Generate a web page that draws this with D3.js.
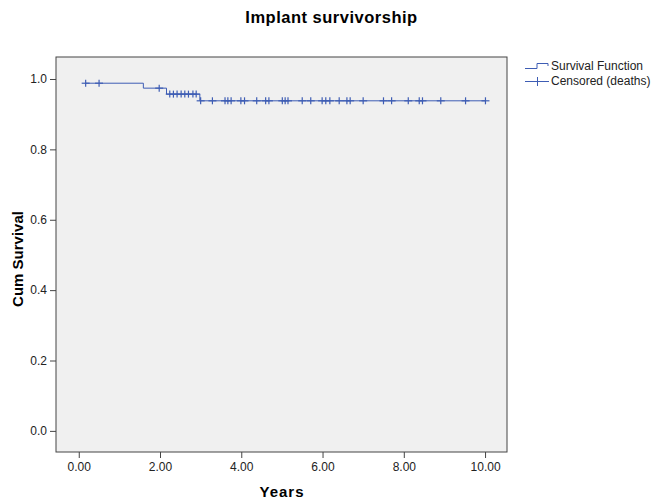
<!DOCTYPE html>
<html><head><meta charset="utf-8">
<script src="https://cdn.jsdelivr.net/npm/d3@7"></script>
<style>
body{margin:0;background:#fff;}
svg{display:block;font-family:"Liberation Sans",Arial,sans-serif;}
</style></head>
<body><svg id="c" width="652" height="501"></svg>
<script>
// Kaplan-Meier steps: event times and survival after each step
const startTime = 0.17;
const eventTimes = [1.59, 2.16, 2.98];
const survivalLevels = [0.988, 0.974, 0.957, 0.938]; // level before first event, then after each
const censoredTimes = [0.17, 0.50, 1.98,
  2.24, 2.33, 2.42, 2.52, 2.61, 2.70, 2.81, 2.89,
  3.00, 3.29, 3.60, 3.67, 3.75, 3.99, 4.08, 4.38, 4.60, 4.68,
  5.01, 5.08, 5.15, 5.50, 5.71, 5.99, 6.08, 6.18, 6.41, 6.60, 6.68,
  7.00, 7.50, 7.70, 8.11, 8.38, 8.46, 8.91, 9.52, 10.01];
const endTime = 10.01;
const xTicks = [0, 2, 4, 6, 8, 10];
const yTicks = [0, 0.2, 0.4, 0.6, 0.8, 1.0];
const legendLabels = ["Survival Function", "Censored (deaths)"];

const svg = d3.select("#c");
const L = 56, R = 507, T = 57, B = 452;
const x = d3.scaleLinear().domain([-0.56, 10.54]).range([L, R]);
const y = d3.scaleLinear().domain([-0.06, 1.0625]).range([B, T]);
const blue = "#3e5db4";
const ff = "Liberation Sans, Arial, sans-serif";

svg.append("text").attr("x", 331.5).attr("y", 23).attr("text-anchor", "middle")
  .attr("font-weight", "bold").attr("font-size", 16.5).attr("letter-spacing", 0.5)
  .attr("fill", "#000").text("Implant survivorship");

svg.append("rect").attr("x", L).attr("y", T).attr("width", R - L).attr("height", B - T)
  .attr("fill", "#f0f0f0").attr("stroke", "#444").attr("stroke-width", 1);

const xAxis = svg.append("g").attr("transform", `translate(0,${B})`)
  .call(d3.axisBottom(x).tickValues(xTicks).tickFormat(d3.format(".2f")).tickSize(6).tickSizeOuter(0));
xAxis.select(".domain").remove();
xAxis.selectAll("line").attr("stroke", "#444");
xAxis.selectAll("text").attr("font-size", 12).attr("fill", "#222").attr("dy", "0.85em")
  .style("font-family", ff);

const yAxis = svg.append("g").attr("transform", `translate(${L},0)`)
  .call(d3.axisLeft(y).tickValues(yTicks).tickFormat(d3.format(".1f")).tickSize(6).tickSizeOuter(0));
yAxis.select(".domain").remove();
yAxis.selectAll("line").attr("stroke", "#444");
yAxis.selectAll("text").attr("font-size", 12).attr("fill", "#222")
  .style("font-family", ff);

svg.append("text").attr("transform", `translate(23,259) rotate(-90)`).attr("text-anchor", "middle")
  .attr("font-weight", "bold").attr("font-size", 15).text("Cum Survival");
svg.append("text").attr("x", 282).attr("y", 497).attr("text-anchor", "middle")
  .attr("font-weight", "bold").attr("font-size", 15).attr("letter-spacing", 1).text("Years");

// step path
const pts = [[startTime, survivalLevels[0]]];
eventTimes.forEach((t, i) => { pts.push([t, survivalLevels[i]]); pts.push([t, survivalLevels[i + 1]]); });
pts.push([endTime, survivalLevels[survivalLevels.length - 1]]);
svg.append("path").attr("d", d3.line().x(d => x(d[0])).y(d => y(d[1]))(pts))
  .attr("fill", "none").attr("stroke", blue).attr("stroke-width", 1);

function levelAt(t) {
  let s = survivalLevels[0];
  eventTimes.forEach((e, i) => { if (t >= e) s = survivalLevels[i + 1]; });
  return s;
}
const cg = svg.append("g").attr("stroke", blue).attr("stroke-width", 1.2);
censoredTimes.forEach(t => {
  const cx = x(t), cy = y(levelAt(t));
  cg.append("line").attr("x1", cx - 4).attr("x2", cx + 4).attr("y1", cy).attr("y2", cy);
  cg.append("line").attr("x1", cx).attr("x2", cx).attr("y1", cy - 3.5).attr("y2", cy + 3.5);
});

// legend
const lg = svg.append("g");
lg.append("path").attr("d", "M525,68.5H537V63.5H548V66").attr("fill", "none").attr("stroke", blue);
lg.append("line").attr("x1", 525).attr("x2", 549).attr("y1", 81.5).attr("y2", 81.5).attr("stroke", blue);
lg.append("line").attr("x1", 537.5).attr("x2", 537.5).attr("y1", 77).attr("y2", 86).attr("stroke", blue);
lg.selectAll("text.l").data(legendLabels).join("text").attr("class", "l")
  .attr("x", 551).attr("y", (d, i) => 70 + i * 15).attr("font-size", 12).attr("fill", "#222")
  .style("font-family", ff).text(d => d);
</script></body></html>
